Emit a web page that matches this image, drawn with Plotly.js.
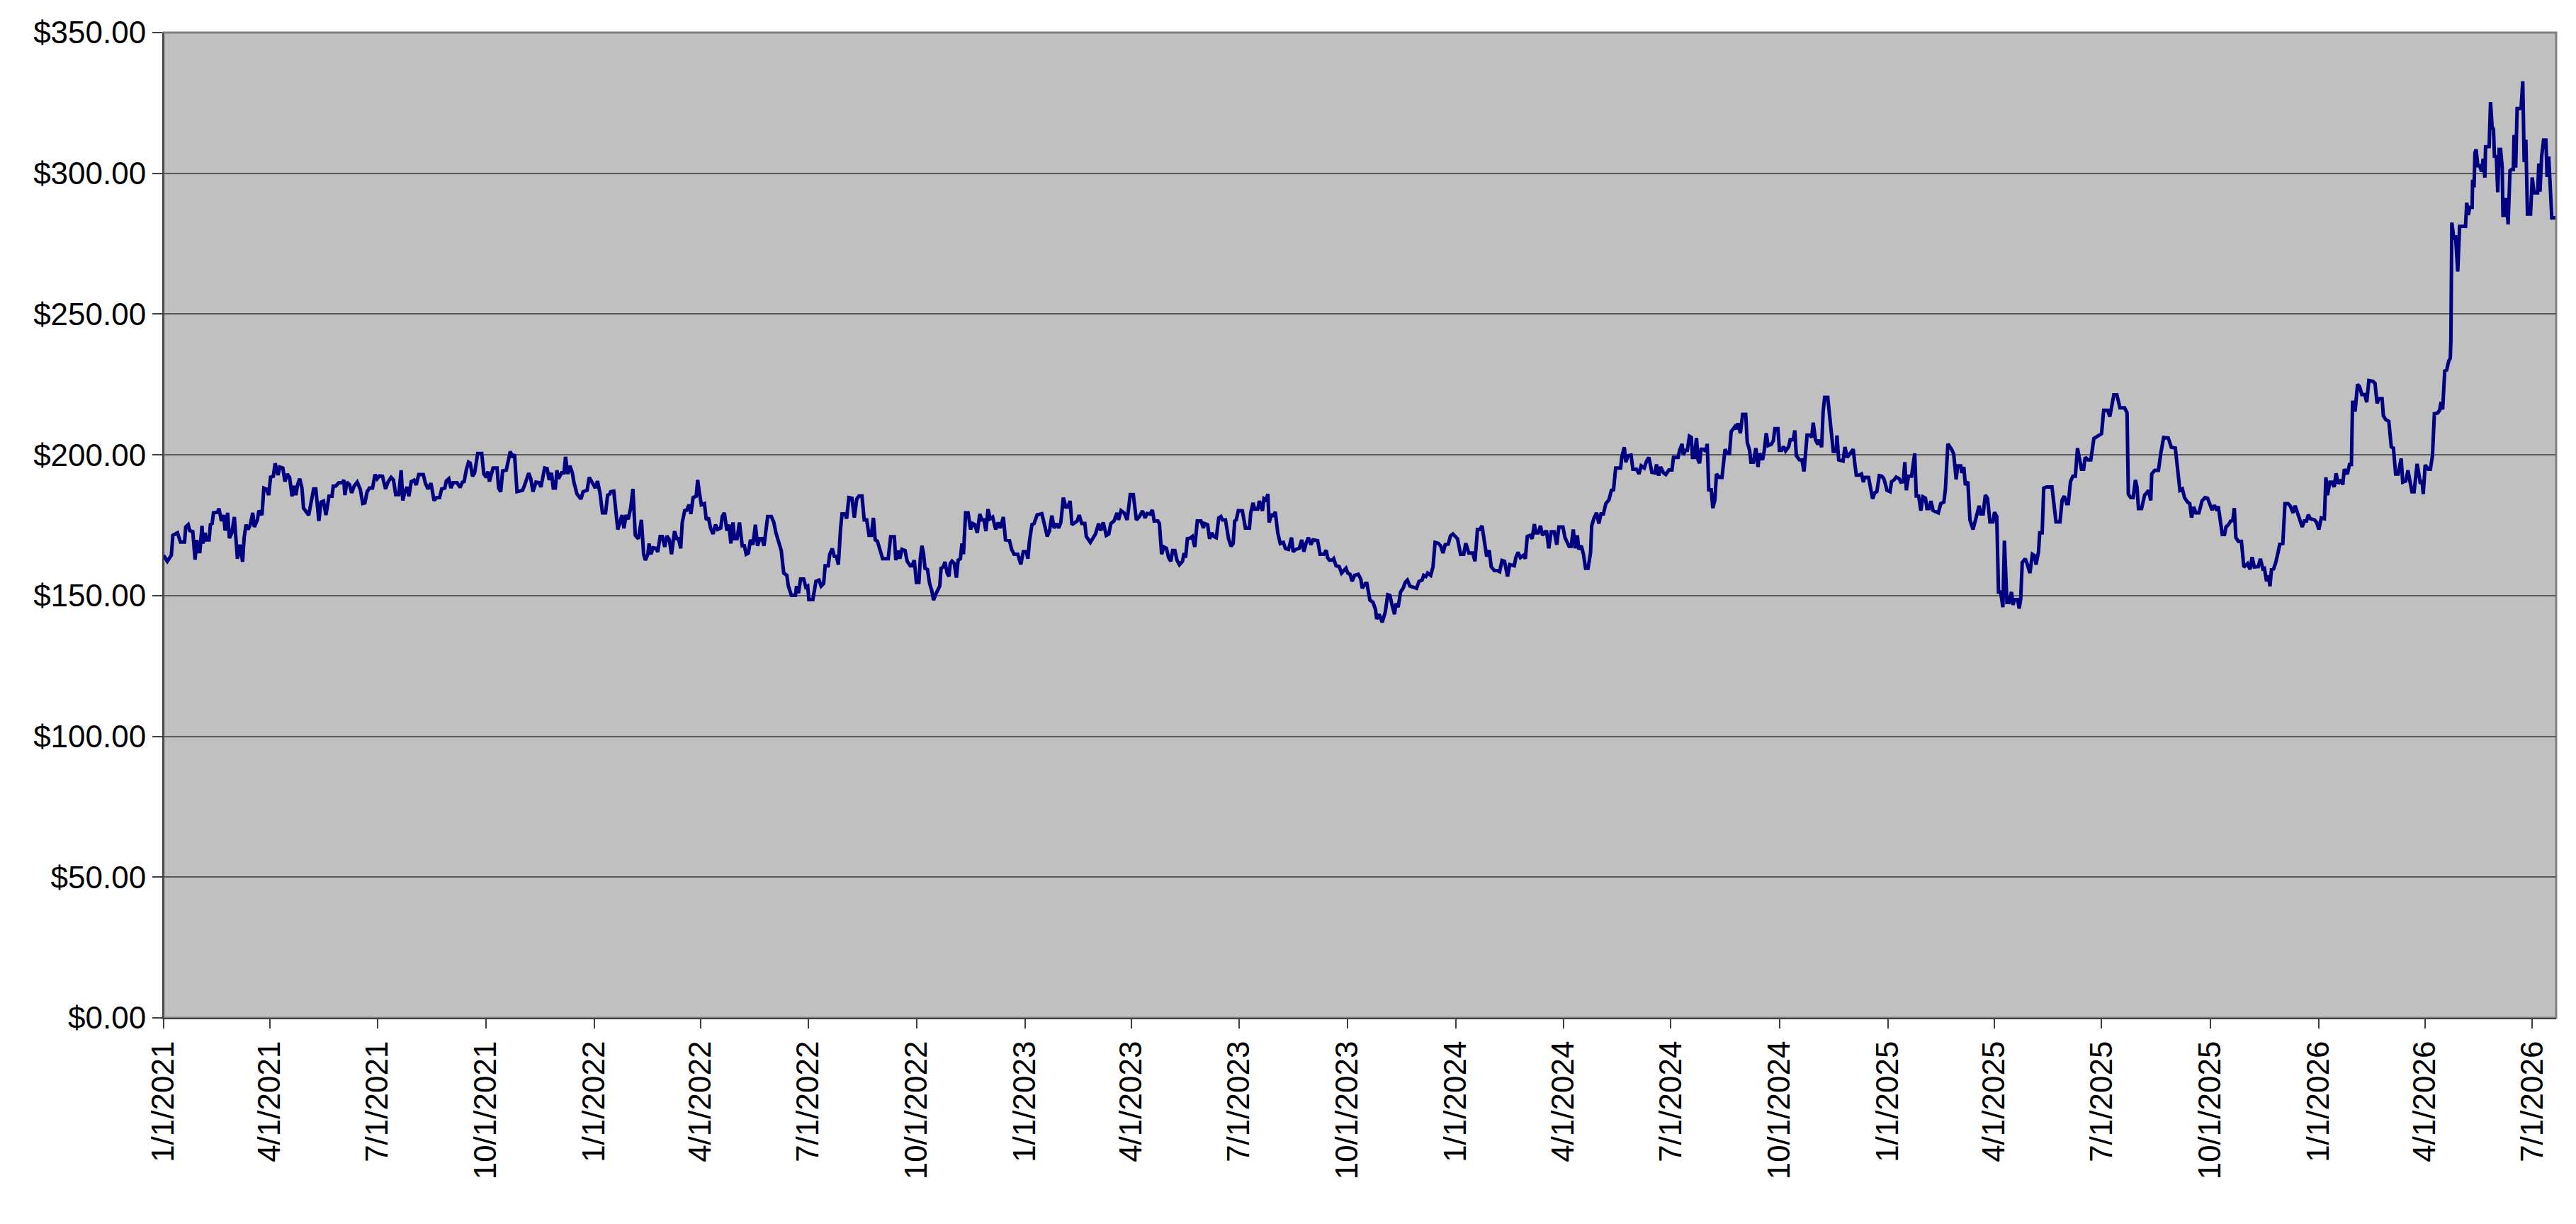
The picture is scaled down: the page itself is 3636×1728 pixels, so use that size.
<!DOCTYPE html>
<html>
<head>
<meta charset="utf-8">
<script src="https://cdn.plot.ly/plotly-3.0.1.min.js"></script>
<style>
    html, body { margin: 0; padding: 0; background: #fff; }
    #chart { width: 3636px; height: 1728px; }
</style>
</head>
<body>
<div id="chart"></div>
<script>
// Series start date; each point below is [days since start, closing price].
const startDate = "2021-01-01";
const endDays = 2027.2;

const closes2021 = [
    [0, 164.3], [3.1, 162.2], [6.5, 164.3], [7.8, 171.4], [11.7, 172.3], [14.3, 169], [17.7, 169], [18.7, 174.4],
    [20.8, 175.2], [22.1, 173.1], [24.7, 172.7], [26.6, 162.8], [28.1, 169.8], [29.2, 165.6], [30.7, 165.6], [32.5, 174.8],
    [33.3, 168.5], [35.1, 172.3], [36.4, 169.8], [38.5, 169.8], [39.6, 175.2], [41.1, 175.6], [42.2, 179.4], [45.6, 179.6],
    [46.9, 180.9], [48.9, 176.5], [50.8, 178.6], [52.1, 173.1], [54.2, 179.4], [55.7, 170.4], [57.8, 172.3], [59.9, 177.9],
    [62.5, 163.1], [64.6, 168.1], [66.9, 162], [68.2, 170.6], [69.8, 175.2], [71.6, 173.5], [73.4, 175.2], [75.5, 179.4],
    [76.8, 174.4], [79.4, 176.9], [80.7, 180.2], [83.3, 178.6], [84.9, 188.2], [87.2, 187.8], [89.0, 185.7], [90.6, 192.1],
    [92.9, 192.4], [94.5, 197], [96.9, 192.8], [98.4, 195.7], [101.0, 195.3], [102.8, 190.5], [104.7, 193.2], [106.7, 192],
    [108.8, 185.3], [110.6, 189], [112.0, 185.7], [113.5, 189.4], [115.3, 191.5], [117.2, 188.2], [118.5, 181.1], [120.3, 180.2],
    [122.9, 178.6], [124.4, 181.9], [127.1, 187.9], [128.9, 187.9], [131.5, 176.5], [133.3, 183.2], [135.4, 183.6], [137.5, 178.6],
    [140.1, 185.3], [142.7, 185.3], [143.7, 188.9], [145.8, 188.9], [148.4, 190.1], [151.5, 190.1], [152.6, 191.1], [153.6, 185.7],
    [155.2, 190.3], [157.5, 189.4], [159.3, 186.5], [161.4, 188.9], [164.0, 190.3], [166.6, 187.8], [168.7, 182.7], [170.5, 182.9],
    [172.4, 186.9], [174.4, 188.2], [177.0, 188.2], [179.1, 193], [180.9, 191.5], [182.8, 192.5], [185.4, 192.4], [188.0, 187.9],
    [190.1, 190.3], [192.7, 192], [194.7, 191.1], [196.6, 185.9], [199.2, 185.9], [201.2, 194.5], [202.6, 183.8], [204.4, 186.9],
    [206.2, 188.6], [207.8, 185.3], [209.8, 190.5], [212.2, 191], [214.0, 189.3], [216.1, 193], [220.0, 193], [221.8, 189.9],
    [223.9, 187.9], [226.5, 189.9], [229.1, 183.8], [231.2, 184.8], [233.8, 184.8], [235.6, 187.9], [238.2, 188.2], [239.5, 190.7],
    [241.6, 191.5], [243.4, 188.2], [245.2, 190.1], [248.6, 190.1], [251.2, 188.4], [253.1, 190.3], [254.6, 190.5], [256.4, 194.6],
    [258.3, 197.4], [259.8, 197], [261.7, 192.4], [263.5, 193.6], [266.1, 200.5], [269.5, 200.5], [271.3, 193.2], [273.4, 192],
    [274.7, 194.1], [276.0, 190.5], [279.1, 195.3], [282.5, 195.3], [283.8, 188.2], [285.6, 186.9], [287.2, 194.3], [290.3, 194.6],
    [292.1, 198.8], [293.7, 201.2], [295.5, 199.1], [297.3, 200.2], [299.4, 186.9], [304.1, 187.4], [305.9, 189.3], [309.3, 193.5],
    [311.1, 191.5], [312.9, 186.9], [315.5, 190.3], [318.1, 190.1], [319.7, 188.6], [322.8, 195.3], [324.9, 195.1], [326.7, 191.1],
    [328.6, 193.6], [330.1, 188.2], [331.9, 188.2], [333.2, 194.5], [334.5, 191.5], [337.2, 193.6], [339.2, 193.6], [340.5, 199.3],
    [342.4, 193.2], [344.2, 196.1], [346.3, 193.6], [347.6, 190.3], [350.2, 186.1], [353.6, 184.3], [355.4, 186.9], [358.8, 187.4],
    [360.6, 192], [363.2, 190.3],
];

const closes2022 = [
    [365.8, 188.2], [367.6, 190.7], [369.7, 186.5], [371.8, 179.4], [374.4, 179.4], [376.2, 185.7], [378.0, 186.1], [378.8, 186.9],
    [381.4, 187.1], [384.8, 173.5], [386.6, 175.6], [388.4, 178.6], [390.0, 173.9], [391.8, 178.6], [393.6, 177.1], [395.7, 181.1],
    [397.6, 187.9], [399.6, 171.4], [402.2, 170.2], [404.8, 176.9], [406.7, 164.7], [408.2, 162.6], [410.3, 164.7], [411.3, 168.5],
    [412.9, 164.7], [414.7, 167], [417.3, 166.8], [418.6, 165.5], [420.7, 171], [422.5, 171], [424.6, 167.3], [426.4, 171.2],
    [428.5, 169.8], [430.3, 164.7], [432.9, 172.9], [434.8, 170.2], [436.3, 170.2], [438.1, 166.8], [439.4, 176], [441.5, 180.2],
    [443.3, 180.4], [445.2, 182.3], [446.7, 179], [448.6, 184.8], [451.2, 185.3], [452.5, 191.1], [453.8, 186.9], [455.6, 182.3],
    [458.2, 182.7], [459.8, 176.9], [461.6, 177.7], [463.4, 174], [465.5, 171.9], [467.6, 175.2], [469.4, 173.5], [472.0, 174],
    [473.3, 178.1], [475.1, 179.4], [477.2, 173.1], [479.0, 175.2], [480.6, 168.5], [482.4, 176], [483.7, 170.2], [485.8, 170.2],
    [487.9, 176], [490.2, 167.7], [492.0, 167.7], [493.6, 164.7], [495.4, 165.1], [497.2, 169.8], [499.3, 168.1], [501.4, 175.2],
    [503.2, 167.7], [505.0, 170.2], [507.1, 170.2], [508.7, 167.7], [511.8, 178.1], [514.9, 178.1], [517.0, 176], [518.8, 172.3],
    [521.5, 168.5], [523.3, 166], [525.4, 158], [528.0, 157.2], [529.3, 153.4], [531.9, 150.1], [535.3, 150.1], [536.3, 153.4],
    [537.9, 150.9], [539.7, 155.9], [542.3, 155.9], [544.1, 153], [545.7, 153.4], [546.7, 148.6], [550.1, 148.6], [552.7, 155.1],
    [555.3, 155.5], [557.1, 153.4], [559.2, 154.3], [560.5, 160.6], [563.1, 160.6], [564.4, 164.7], [566.5, 166.7], [568.3, 163.9],
    [570.1, 163.9], [571.7, 161], [573.5, 173.5], [574.8, 179], [577.4, 179], [578.7, 177.3], [580.6, 184.8], [583.2, 184.6],
    [585.2, 177.7], [587.3, 184.4], [589.1, 185.4], [591.7, 185.4], [593.6, 176.9], [595.7, 176.9], [597.7, 171.4], [599.6, 171.4],
    [601.4, 177.6], [602.9, 169.8], [604.8, 169.3], [607.4, 166], [609.2, 163.1], [613.9, 163.1], [616.0, 170.9], [619.1, 170.9],
    [620.4, 162.6], [622.2, 166], [623.8, 163.1], [625.6, 166.4], [628.2, 166], [630.0, 162.2], [632.6, 160.6], [634.2, 160.6],
    [636.0, 162.6], [637.8, 154.7], [639.9, 154.7], [641.2, 163.5], [642.5, 167.7], [643.8, 165.1], [645.1, 159.7], [647.2, 159.3],
    [649.0, 154.3], [650.8, 151.8], [652.4, 148.4], [654.2, 150.5], [657.6, 153.4], [658.7, 159.7], [660.7, 160.2], [662.0, 162],
    [663.9, 158], [665.4, 156.8], [666.5, 161.4], [668.0, 162.2], [669.9, 161.4], [671.7, 156.4], [673.2, 162.6], [675.1, 163.1],
    [676.4, 168.5], [677.7, 164.7], [679.5, 179.4], [681.6, 179.4], [683.7, 173.5], [685.5, 175.6], [687.3, 175.2], [689.4, 172.3],
    [691.5, 179], [693.3, 176.9], [695.1, 176.9], [696.7, 172.9], [698.5, 180.7], [700.3, 177.3], [702.4, 177.9], [705.0, 173.5],
    [707.1, 176], [708.9, 174], [711.5, 177.9], [713.3, 169.8], [716.7, 169.5], [718.5, 166.4], [720.6, 164.7], [723.7, 164.7],
    [726.3, 161.1],
];

const closes2023 = [
    [728.4, 165.6], [731.0, 165.6], [732.3, 163.1], [733.6, 169.3], [735.7, 175.2], [737.5, 175.6], [740.1, 178.7], [744.1, 179.1],
    [746.1, 175.6], [748.7, 171], [750.6, 173.1], [752.6, 178.4], [754.5, 174], [756.5, 175.6], [758.4, 174], [760.2, 176],
    [762.3, 184.8], [764.4, 181.5], [766.2, 181.5], [768.0, 183.6], [769.6, 175.2], [772.2, 176], [774.0, 176.5], [775.8, 178.6],
    [777.9, 175.6], [780.5, 175.6], [781.8, 171], [785.2, 168.9], [787.8, 170.6], [789.6, 171.9], [792.2, 175.6], [794.0, 173.1],
    [796.1, 176], [798.7, 171.4], [800.8, 171.9], [802.6, 175.6], [805.2, 176.5], [807.8, 179.4], [809.1, 176.9], [811.2, 180.2],
    [813.8, 179.4], [816.4, 176.9], [819.0, 185.9], [821.6, 185.9], [824.2, 176.9], [826.8, 178.1], [829.4, 180.1], [831.5, 177.6],
    [833.3, 179.2], [835.9, 179], [837.7, 180.4], [839.3, 176.5], [842.4, 176.5], [843.7, 175.6], [845.6, 164.7], [847.6, 167.3],
    [849.7, 166.8], [851.5, 163.5], [853.4, 162.2], [854.9, 166], [856.8, 166], [858.6, 162.6], [860.7, 161], [863.3, 162.2],
    [864.6, 165.1], [865.9, 163.5], [867.4, 170.2], [869.8, 170.4], [871.6, 171], [873.7, 167.3], [875.8, 176.5], [878.9, 176.5],
    [881.0, 174], [882.0, 175.6], [884.6, 175.2], [886.2, 170.2], [888.0, 172.3], [889.8, 171], [891.9, 170.6], [894.0, 177.6],
    [895.8, 178.1], [897.1, 176.9], [899.7, 176.9], [902.3, 170.2], [904.4, 167.5], [906.2, 168.5], [907.5, 176.5], [908.8, 176.9],
    [910.6, 180.2], [914.0, 180.1], [916.6, 174], [920.0, 174], [921.1, 179.4], [923.1, 183], [924.4, 180.7], [927.0, 180.7],
    [928.4, 183.6], [931.0, 180.1], [932.3, 184.4], [934.1, 183.9], [935.6, 186.1], [936.7, 176], [938.8, 179], [940.1, 178.1],
    [941.9, 179.8], [944.0, 172.3], [946.1, 168.5], [948.7, 168.9], [950.5, 166.7], [953.1, 166.4], [955.7, 170.6], [957.0, 165.6],
    [959.1, 166.4], [962.2, 166.8], [964.3, 169.8], [966.1, 165.6], [967.9, 168.5], [970.0, 170.6], [972.1, 168.1], [973.9, 169.8],
    [977.8, 169.5], [979.9, 164.7], [983.0, 164.7], [985.1, 166.1], [986.2, 163.5], [987.7, 162.6], [990.3, 162.6], [991.4, 163.1],
    [993.4, 160.6], [996.0, 160.3], [998.1, 158], [999.9, 158.9], [1001.8, 159.7], [1003.3, 158], [1005.2, 157.6], [1007.0, 155.1],
    [1009.1, 157.2], [1012.2, 157.6], [1014.3, 155.9], [1015.6, 152.6], [1018.2, 154.3], [1019.5, 154.3], [1022.1, 148.4], [1024.7, 147.6],
    [1026.8, 145.1], [1027.8, 141.7], [1029.9, 143.4], [1032.5, 140.5], [1035.1, 144.2], [1037.2, 150.3], [1039.0, 150.1], [1040.8, 146.7],
    [1042.9, 143.4], [1044.2, 147.2], [1046.0, 145.9], [1048.1, 151.3], [1050.2, 152.6], [1052.0, 154.7], [1053.8, 155.5], [1055.9, 153.4],
    [1059.8, 153], [1061.6, 152.6], [1063.7, 155.1], [1066.3, 155.5], [1067.6, 157.2], [1069.5, 156.8], [1071.0, 158], [1073.6, 157.2],
    [1075.5, 160.2], [1077.3, 168.9], [1079.9, 168.6], [1082.0, 167.7], [1084.0, 165.1], [1085.9, 168.1], [1088.5, 168.3], [1090.3, 171.2],
    [1092.4, 171.9],
];

const closes2024 = [
    [1094.5, 170.8], [1096.3, 170.2], [1098.9, 164.7], [1101.5, 164.7], [1103.3, 168.6], [1105.9, 165.1], [1109.3, 165.1], [1111.1, 162.2],
    [1113.2, 173.5], [1115.3, 173.5], [1117.1, 174.8], [1118.9, 169.3], [1121.0, 163.9], [1123.1, 166.1], [1124.9, 160.2], [1127.5, 158.9],
    [1130.1, 158.9], [1132.0, 158.5], [1134.0, 162.5], [1136.1, 162.2], [1138.7, 156.8], [1140.5, 161], [1144.4, 160.6], [1145.7, 163.5],
    [1147.6, 165.4], [1149.6, 163.5], [1152.2, 164.3], [1153.8, 163.1], [1155.4, 171], [1157.5, 171.4], [1159.5, 170.2], [1161.4, 175.4],
    [1162.7, 172.3], [1164.7, 172.3], [1166.6, 174.8], [1168.4, 171.4], [1170.5, 172.7], [1171.8, 172.7], [1173.6, 166.8], [1175.7, 172.7],
    [1178.3, 172.7], [1180.4, 168.1], [1182.2, 174.4], [1185.6, 174.4], [1187.4, 170.6], [1190.8, 167.5], [1192.6, 167.5], [1194.4, 173.5],
    [1196.0, 166.8], [1197.8, 171.4], [1199.1, 166.4], [1201.2, 167.7], [1203.0, 164.7], [1204.8, 159.7], [1206.9, 159.7], [1209.0, 165.1],
    [1210.0, 174.8], [1212.1, 177.7], [1214.2, 179.4], [1216.0, 175.6], [1217.9, 179], [1219.9, 179], [1222.0, 182.7], [1224.6, 184],
    [1226.7, 187.4], [1228.5, 187.6], [1230.3, 195.3], [1234.5, 195.3], [1235.5, 199.3], [1237.6, 202.7], [1238.9, 197.4], [1240.7, 199.7],
    [1243.3, 199.9], [1244.9, 194.9], [1248.0, 194.9], [1250.1, 193.2], [1251.9, 196.1], [1254.5, 195.3], [1256.4, 197.7], [1258.4, 199.1],
    [1261.0, 193.8], [1263.7, 193.6], [1264.9, 196.6], [1266.8, 192.6], [1268.3, 195.7], [1270.9, 193.6], [1272.8, 193], [1275.4, 194.6],
    [1278.0, 194.6], [1279.3, 199.1], [1283.2, 199.1], [1284.5, 201.6], [1286.6, 203.9], [1287.6, 199.9], [1289.2, 201.6], [1291.0, 201.6],
    [1292.8, 206.6], [1294.4, 206.2], [1295.4, 199.1], [1297.0, 199.1], [1298.8, 206], [1300.1, 198.2], [1301.4, 197], [1302.7, 202],
    [1304.8, 202], [1306.6, 201.2], [1307.9, 203.9], [1309.2, 187.6], [1311.3, 187.6], [1312.6, 181.1], [1314.4, 184], [1315.7, 193.2],
    [1318.3, 192], [1320.4, 192], [1321.5, 197.4], [1323.0, 202], [1324.8, 200.5], [1326.7, 200.5], [1328.2, 208.3], [1330.0, 209.5],
    [1331.3, 210], [1332.6, 209.1], [1333.9, 211.2], [1336.0, 207.7], [1337.9, 214.4], [1340.5, 214.4], [1341.8, 204.4], [1343.8, 201.6],
    [1344.9, 197.4], [1347.0, 197.4], [1349.1, 202.4], [1350.9, 195.7], [1352.2, 200.5], [1354.8, 198.2], [1356.1, 201.2], [1357.9, 207.7],
    [1359.5, 203.3], [1362.1, 203.7], [1363.9, 205], [1365.2, 209.3], [1367.8, 209.3], [1369.1, 201.6], [1370.9, 201.6], [1372.5, 203],
    [1374.3, 201.4], [1376.9, 202.9], [1378.2, 205.4], [1380.8, 205.4], [1382.1, 208.7], [1383.4, 199.7], [1386.0, 198.2], [1388.1, 198.2],
    [1389.9, 194.1], [1392.5, 207], [1395.1, 207], [1396.4, 206.2], [1397.7, 211.4], [1399.6, 205.4], [1401.6, 203.7], [1402.9, 205.4],
    [1404.8, 202.7], [1406.1, 215.4], [1407.4, 220.4], [1410.0, 220.4], [1412.1, 211.2], [1413.4, 206.6], [1414.7, 201.2], [1417.3, 201.2],
    [1417.8, 206.9], [1419.3, 198.2], [1423.0, 197.8], [1424.6, 202.8], [1426.4, 199.1], [1429.0, 200.5], [1431.6, 202], [1432.9, 197],
    [1434.2, 192.8], [1436.8, 192.8], [1438.6, 193.2], [1440.2, 190.3], [1441.2, 192], [1444.6, 192], [1446.4, 187.8], [1448.0, 184.4],
    [1449.8, 186.5], [1451.6, 186.9], [1453.7, 192.6], [1455.8, 192.4],
];

const closes2025 = [
    [1457.6, 191.5], [1460.2, 187.4], [1462.8, 186.9], [1464.1, 190.5], [1466.2, 191.1], [1468.0, 192.1], [1470.6, 191.5], [1471.9, 190.3],
    [1474.0, 190.5], [1475.3, 197.4], [1476.6, 187.4], [1478.4, 192.4], [1481.0, 192.4], [1483.7, 200.5], [1485.0, 185.4], [1487.0, 185.4],
    [1488.9, 180.2], [1490.7, 185.1], [1492.8, 184.6], [1494.1, 180.9], [1495.9, 180.9], [1497.4, 183.6], [1499.3, 180.2], [1501.9, 179.8],
    [1503.7, 179.4], [1505.8, 182.7], [1508.4, 183.2], [1509.7, 187.8], [1511.8, 203.9], [1514.9, 202], [1516.7, 200.3], [1518.8, 191.3],
    [1520.1, 196.1], [1522.7, 196.1], [1523.5, 193.6], [1525.3, 195.7], [1526.6, 189.3], [1528.7, 190.5], [1530.5, 176.9], [1533.1, 173.5],
    [1534.9, 176.5], [1537.0, 180.1], [1538.3, 181.9], [1539.6, 179], [1541.7, 179], [1543.5, 185.7], [1545.4, 184.6], [1547.4, 176.2],
    [1550.0, 176.2], [1551.3, 179.6], [1553.2, 178.1], [1554.7, 151.3], [1556.5, 151.3], [1558.4, 145.9], [1559.7, 169.5], [1561.8, 147.6],
    [1563.6, 147.6], [1565.7, 151.3], [1567.0, 146.7], [1568.3, 148.6], [1570.9, 148.6], [1572.2, 145.4], [1573.5, 148.8], [1574.8, 161.8],
    [1577.4, 163.1], [1579.2, 161], [1581.3, 158], [1583.4, 164.7], [1585.2, 164.2], [1586.5, 161], [1588.6, 165.6], [1589.6, 172.3],
    [1591.7, 172.3], [1593.0, 188.2], [1595.6, 188.6], [1600.0, 188.6], [1602.1, 180.2], [1603.4, 176.2], [1606.8, 176.2], [1608.6, 184],
    [1610.4, 185.3], [1612.5, 182.7], [1613.8, 182.7], [1615.7, 190.5], [1617.7, 192.4], [1619.8, 192.4], [1621.6, 202.4], [1623.5, 198.7],
    [1625.0, 194.9], [1626.8, 194.9], [1628.1, 199.1], [1630.7, 198.2], [1632.9, 198.2], [1635.5, 205.8], [1638.1, 206.6], [1642.0, 207.5],
    [1643.8, 215.8], [1647.2, 215.8], [1649.0, 213.6], [1650.6, 216.7], [1652.4, 221.3], [1655.0, 221.3], [1657.6, 216.7], [1661.5, 216.7],
    [1663.6, 215], [1664.7, 186.1], [1666.7, 184.8], [1668.8, 184.8], [1670.7, 191.1], [1672.0, 188.6], [1673.3, 180.9], [1675.9, 180.9],
    [1678.5, 185.7], [1680.3, 186.5], [1681.8, 187.4], [1683.7, 183.8], [1684.5, 193.2], [1687.1, 194.5], [1690.2, 194.5], [1692.3, 200.8],
    [1694.6, 206.2], [1698.5, 206], [1701.1, 202.7], [1704.5, 202.4], [1706.3, 195.3], [1708.4, 187.4], [1710.5, 187.9], [1712.3, 184.8],
    [1714.9, 183.2], [1716.7, 182.7], [1718.3, 177.7], [1720.1, 181.5], [1721.9, 179.4], [1724.5, 179.4], [1727.1, 183.6], [1729.7, 184.8],
    [1731.8, 184.6], [1733.9, 182.7], [1735.7, 180.4], [1737.6, 182.1], [1739.6, 180.2], [1740.9, 181.7], [1742.8, 176.9], [1744.3, 171.7],
    [1746.2, 171.7], [1747.5, 174.4], [1749.5, 175.2], [1751.4, 176.5], [1753.2, 176.7], [1754.5, 181.1], [1755.8, 170.6], [1757.9, 169.3],
    [1760.5, 169.3], [1762.6, 160.1], [1765.7, 161.4], [1767.8, 159.3], [1769.6, 163.7], [1771.4, 160.2], [1774.8, 160.3], [1776.6, 163.1],
    [1778.7, 159.5], [1780.0, 159.7], [1781.8, 155.1], [1783.4, 157.2], [1784.7, 153.3], [1786.0, 159.3], [1787.8, 159.5], [1789.6, 161.8],
    [1791.7, 165.6], [1793.0, 168.3], [1795.6, 168.5], [1797.4, 182.7], [1800.0, 182.7], [1802.1, 181.7], [1804.2, 179.4], [1806.0, 181.9],
    [1807.9, 179.6], [1809.9, 177.3], [1812.0, 174.4], [1813.8, 176.5], [1815.7, 176.5], [1817.2, 178.7], [1819.0, 177.3], [1822.4, 176.9],
    [1824.3, 176],
];

const closes2026 = [
    [1826.1, 173.5], [1828.2, 177.6], [1830.8, 177.3], [1832.1, 192], [1833.4, 185.7], [1835.5, 190.3], [1837.3, 190.3], [1839.1, 188.6],
    [1840.7, 193.4], [1842.5, 189.8], [1845.1, 191.1], [1846.4, 189.4], [1847.7, 194.9], [1850.3, 193.2], [1852.1, 196.6], [1853.7, 196.6],
    [1854.7, 219.2], [1856.8, 215.4], [1858.9, 225], [1860.7, 224.2], [1862.5, 221.4], [1865.1, 221.4], [1866.7, 218.7], [1868.5, 226.4],
    [1871.9, 226.1], [1873.7, 225.4], [1875.5, 218.3], [1877.1, 220], [1879.7, 220], [1880.8, 213.9], [1882.8, 212.5], [1885.4, 211.9],
    [1887.5, 202.8], [1889.3, 202.4], [1891.2, 193.2], [1893.3, 193.2], [1895.9, 198.7], [1897.2, 190.3], [1899.8, 190.7], [1901.6, 194.5],
    [1905.0, 186.9], [1906.8, 186.9], [1909.4, 196.8], [1912.0, 190.3], [1913.6, 190.5], [1914.6, 186.1], [1916.2, 196.4], [1918.8, 194.9],
    [1920.6, 194.9], [1922.4, 199.7], [1924.0, 214.6], [1926.6, 214.8], [1928.4, 215.8], [1929.7, 218.8], [1931.0, 216.1], [1932.8, 229.8],
    [1934.4, 230.1], [1936.2, 233.4], [1937.5, 234.3], [1938.0, 240.5], [1938.8, 282.5], [1940.4, 277.1], [1942.0, 277.3], [1943.8, 265.1],
    [1945.4, 281.2], [1950.4, 281.2], [1951.4, 289.6], [1952.8, 285.2], [1954.0, 287.9], [1956.0, 287.9], [1956.4, 297.7], [1957.6, 295],
    [1958.4, 307.3], [1959.4, 308.5], [1960.8, 302.7], [1962.4, 302.7], [1964.0, 300.6], [1965.4, 305.2], [1966.8, 298.5], [1967.4, 309.4],
    [1970.4, 309.5], [1971.6, 325.3], [1972.9, 316.7], [1974.1, 315.6], [1974.9, 306], [1976.5, 305.9], [1977.7, 293.3], [1978.9, 308.5],
    [1980.1, 308.5], [1981.5, 302.3], [1982.1, 285.1], [1984.1, 285.1], [1984.9, 291.3], [1986.5, 281.9], [1988.1, 301], [1989.5, 301.4],
    [1990.9, 301.4], [1991.5, 313.6], [1992.9, 302], [1994.1, 323], [1996.5, 323], [1997.5, 323.2], [1998.9, 332.7], [2000.1, 304],
    [2001.5, 311.9], [2002.1, 302.7], [2002.9, 285.5], [2005.5, 285.5], [2006.9, 298.5], [2008.5, 293.1], [2011.5, 293.1], [2012.5, 303.5],
    [2013.5, 293.5], [2014.9, 306], [2016.5, 311.8], [2018.5, 311.8], [2019.5, 298.7], [2020.9, 306], [2023.5, 284.2], [2026.5, 284.2],
];

const yTicks = [0, 50, 100, 150, 200, 250, 300, 350];
const yTickText = yTicks.map(v => "$" + v.toFixed(2));

// Turn a day offset into a Plotly date string.
const t0 = Date.parse(startDate + "T00:00:00Z");
const toDate = d => new Date(t0 + d * 86400000).toISOString().slice(0, 19).replace("T", " ");

const history = [...closes2021, ...closes2022, ...closes2023, ...closes2024, ...closes2025, ...closes2026];

Plotly.newPlot("chart", [{
    type: "scatter",
    mode: "lines",
    x: history.map(p => toDate(p[0])),
    y: history.map(p => p[1]),
    line: { color: "#000080", width: 5 },
    hoverinfo: "skip",
}], {
    width: 3636,
    height: 1728,
    margin: { l: 231, r: 28, t: 46, b: 291, pad: 0 },
    paper_bgcolor: "#ffffff",
    plot_bgcolor: "#c0c0c0",
    showlegend: false,
    font: { family: "Liberation Sans, Arial, sans-serif", size: 44, color: "#000" },
    xaxis: {
        type: "date",
        range: [toDate(0), toDate(endDays)],
        tick0: startDate,
        dtick: "M3",
        tickformat: "%-m/%-d/%Y",
        tickangle: -90,
        ticks: "outside",
        ticklen: 13,
        tickwidth: 2,
        tickcolor: "#404040",
        showgrid: false,
        zeroline: false,
        showline: true,
        linecolor: "#404040",
        linewidth: 2,
        fixedrange: true,
    },
    yaxis: {
        range: [0, 350],
        tickmode: "array",
        tickvals: yTicks,
        ticktext: yTickText,
        ticks: "outside",
        ticklen: 14,
        tickwidth: 2,
        tickcolor: "#404040",
        showgrid: true,
        gridcolor: "#5a5a5a",
        gridwidth: 2,
        zeroline: false,
        showline: true,
        linecolor: "#404040",
        linewidth: 2,
        fixedrange: true,
    },
    shapes: [{
        type: "rect", xref: "paper", yref: "paper",
        x0: 0, x1: 1, y0: 0, y1: 1,
        line: { color: "#808080", width: 3 },
        layer: "below",
    }],
}, { displayModeBar: false, staticPlot: true });
</script>
</body>
</html>
